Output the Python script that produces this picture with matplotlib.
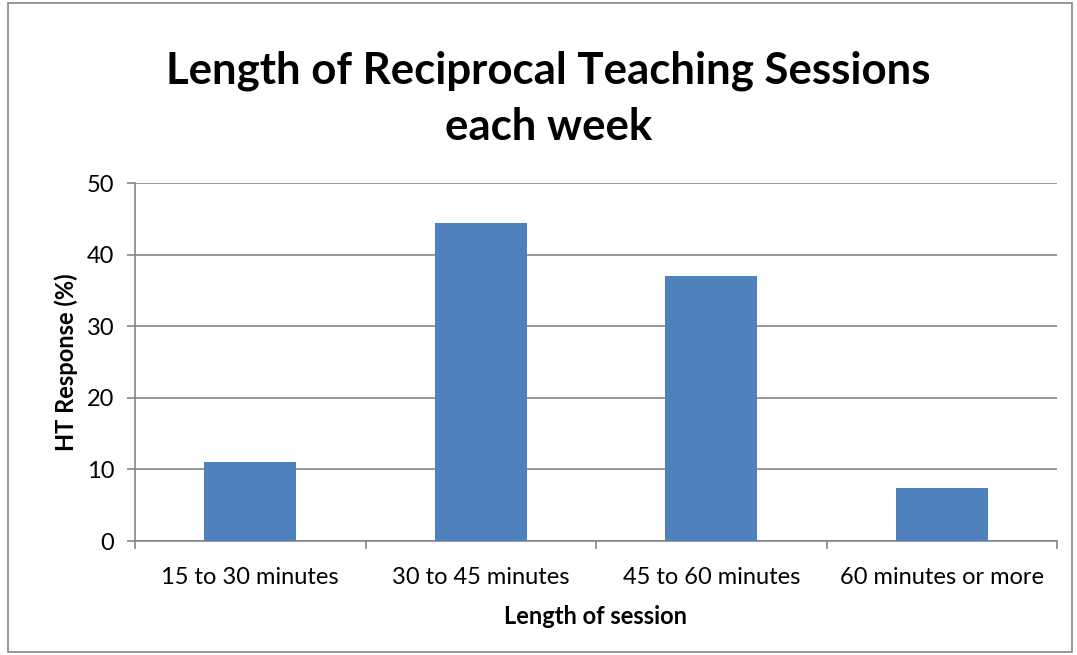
import matplotlib.pyplot as plt
from matplotlib.patches import Rectangle

categories = ["15 to 30 minutes", "30 to 45 minutes", "45 to 60 minutes", "60 minutes or more"]
responses = [11.1, 44.4, 37.0, 7.4]
y_ticks = [0, 10, 20, 30, 40, 50]

plt.rcParams['font.family'] = ['Lato', 'DejaVu Sans']

fig = plt.figure(figsize=(10.77, 6.55), dpi=100)
ax = fig.add_axes([135 / 1077, 1 - 541 / 655, 922 / 1077, 358 / 655])

pos = list(range(len(categories)))
ax.bar(pos, responses, width=0.4, color='#4F81BD', zorder=3)

ax.set_xlim(-0.5, len(categories) - 0.5)
ax.set_ylim(0, 50)
ax.set_yticks(y_ticks)
ax.set_xticks(pos)
ax.set_xticklabels(categories, fontsize=17)
ax.set_xticks([p - 0.5 for p in pos] + [len(categories) - 0.5], minor=True)
ax.tick_params(axis='x', which='major', length=0, pad=19)
ax.tick_params(axis='x', which='minor', length=6, color='#868686', width=1.2, direction='out')
ax.tick_params(axis='y', length=6, color='#868686', width=1.2, labelsize=17, pad=9)

ax.yaxis.grid(True, color='#868686', linewidth=1.2, zorder=0)
for s in ['top', 'right']:
    ax.spines[s].set_visible(False)
for s in ['left', 'bottom']:
    ax.spines[s].set_color('#868686')
    ax.spines[s].set_linewidth(1.2)

ax.set_xlabel("Length of session", fontsize=17, fontweight='bold', labelpad=12)
ax.set_ylabel("HT Response (%)", fontsize=17, fontweight='bold', labelpad=6)

fig.text(0.509, 1 - 99 / 655, "Length of Reciprocal Teaching Sessions\neach week",
         ha='center', va='center', fontsize=31.5, fontweight='bold', linespacing=1.5)

fig.patches.append(Rectangle((8 / 1077, 3 / 655), 1064 / 1077, 649 / 655, transform=fig.transFigure,
                             fill=False, edgecolor='#868686', linewidth=1.2))

fig.savefig('out.png', dpi=100)
